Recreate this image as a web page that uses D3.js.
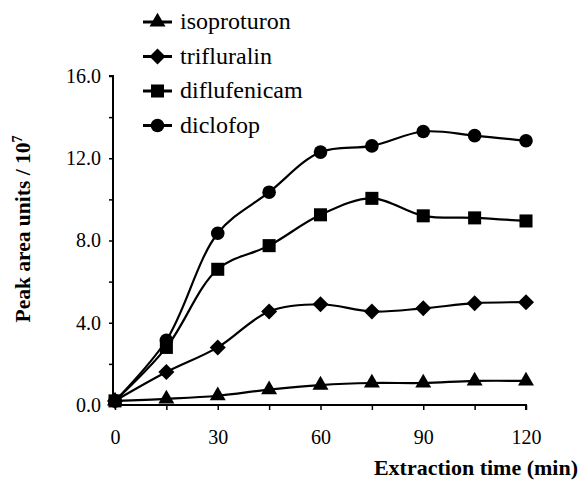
<!DOCTYPE html>
<html>
<head>
<meta charset="utf-8">
<script src="https://cdn.jsdelivr.net/npm/d3@7/dist/d3.min.js"></script>
<style>
  body { margin: 0; background: #fff; }
</style>
</head>
<body>
<script>
// extraction times (min)
const times = [0, 15, 30, 45, 60, 75, 90, 105, 120];
// peak area units / 10^7
const isoproturon  = [0.2, 0.3, 0.45, 0.75, 0.97, 1.07, 1.07, 1.17, 1.17];
const trifluralin  = [0.2, 1.6, 2.8, 4.55, 4.9, 4.55, 4.7, 4.95, 5.0];
const diflufenicam = [0.2, 2.8, 6.6, 7.75, 9.25, 10.05, 9.2, 9.1, 8.95];
const diclofop     = [0.2, 3.15, 8.35, 10.35, 12.3, 12.6, 13.3, 13.1, 12.85];
const seriesNames  = ["isoproturon", "trifluralin", "diflufenicam", "diclofop"];
const seriesShapes = ["triangle", "diamond", "square", "circle"];
const yTicks = [0, 2, 4, 6, 8, 10, 12, 14, 16];
const xTicks = [0, 15, 30, 45, 60, 75, 90, 105, 120];

const serif = "'Liberation Serif', 'Times New Roman', serif";
const width = 582, height = 481;
const svg = d3.select("body").append("svg")
  .attr("width", width).attr("height", height)
  .style("font-family", serif);

const x = d3.scaleLinear().domain([0, 120]).range([115, 526]);
const y = d3.scaleLinear().domain([0, 16]).range([405, 76]);
const axisX = 113;

// y axis
const yAxis = svg.append("g")
  .attr("transform", "translate(" + axisX + ",0)")
  .call(d3.axisLeft(y).tickValues(yTicks).tickSize(4).tickPadding(8)
    .tickFormat(d => d % 4 === 0 ? d3.format(".1f")(d) : ""));
yAxis.attr("font-family", null);
yAxis.select(".domain").attr("d", "M-4," + y(16) + "H0V" + y(0))
  .attr("stroke", "#000").attr("stroke-width", 2);
yAxis.selectAll("line").attr("stroke-width", 1.5);
yAxis.selectAll("text").style("font-size", "20px").style("font-family", serif);

// x axis
const xAxis = svg.append("g")
  .attr("transform", "translate(0," + y(0) + ")")
  .call(d3.axisBottom(x).tickValues(xTicks).tickSize(5).tickPadding(20)
    .tickFormat(d => d % 30 === 0 ? d : ""));
xAxis.attr("font-family", null);
xAxis.select(".domain").attr("d", "M" + axisX + ",0H" + x(120) + "V5")
  .attr("stroke", "#000").attr("stroke-width", 2);
xAxis.selectAll("line").attr("stroke-width", 1.5);
xAxis.selectAll("text").style("font-size", "20px").style("font-family", serif);

// axis titles
svg.append("text")
  .attr("transform", "translate(30,229) rotate(-90)")
  .attr("text-anchor", "middle")
  .style("font-size", "21.5px").style("font-weight", "bold")
  .text("Peak area units / 10")
  .append("tspan").attr("dy", -8).style("font-size", "14px").text("7");

svg.append("text")
  .attr("x", 578).attr("y", 475)
  .attr("text-anchor", "end")
  .style("font-size", "22px").style("font-weight", "bold")
  .text("Extraction time (min)");

// marker shapes
const diamondPath = "M0,-8L8,0L0,8L-8,0Z";
const symbolFor = {
  triangle: () => d3.symbol().type(d3.symbolTriangle).size(110)(),
  diamond: () => diamondPath,
  square: () => d3.symbol().type(d3.symbolSquare).size(170)(),
  circle: () => d3.symbol().type(d3.symbolCircle).size(145)()
};

const allSeries = [isoproturon, trifluralin, diflufenicam, diclofop];
const line = d3.line()
  .x((d, i) => x(times[i]))
  .y(d => y(d))
  .curve(d3.curveCatmullRom.alpha(0.5));

allSeries.forEach((vals, s) => {
  svg.append("path")
    .attr("d", line(vals))
    .attr("fill", "none")
    .attr("stroke", "#000")
    .attr("stroke-width", 2.2);
  svg.selectAll(".m" + s)
    .data(vals)
    .enter().append("path")
    .attr("class", "m" + s)
    .attr("transform", (d, i) => "translate(" + x(times[i]) + "," + y(d) + ")")
    .attr("d", symbolFor[seriesShapes[s]]())
    .attr("fill", "#000");
});

// legend
const legend = svg.append("g");
seriesNames.forEach((name, i) => {
  const ly = 22 + i * 34.5;
  legend.append("line")
    .attr("x1", 143).attr("x2", 172).attr("y1", ly).attr("y2", ly)
    .attr("stroke", "#000").attr("stroke-width", 3);
  legend.append("path")
    .attr("transform", "translate(157.5," + ly + ")")
    .attr("d", symbolFor[seriesShapes[i]]())
    .attr("fill", "#000");
  legend.append("text")
    .attr("x", 180).attr("y", ly + 7)
    .style("font-size", "24px")
    .text(name);
});
</script>
</body>
</html>
